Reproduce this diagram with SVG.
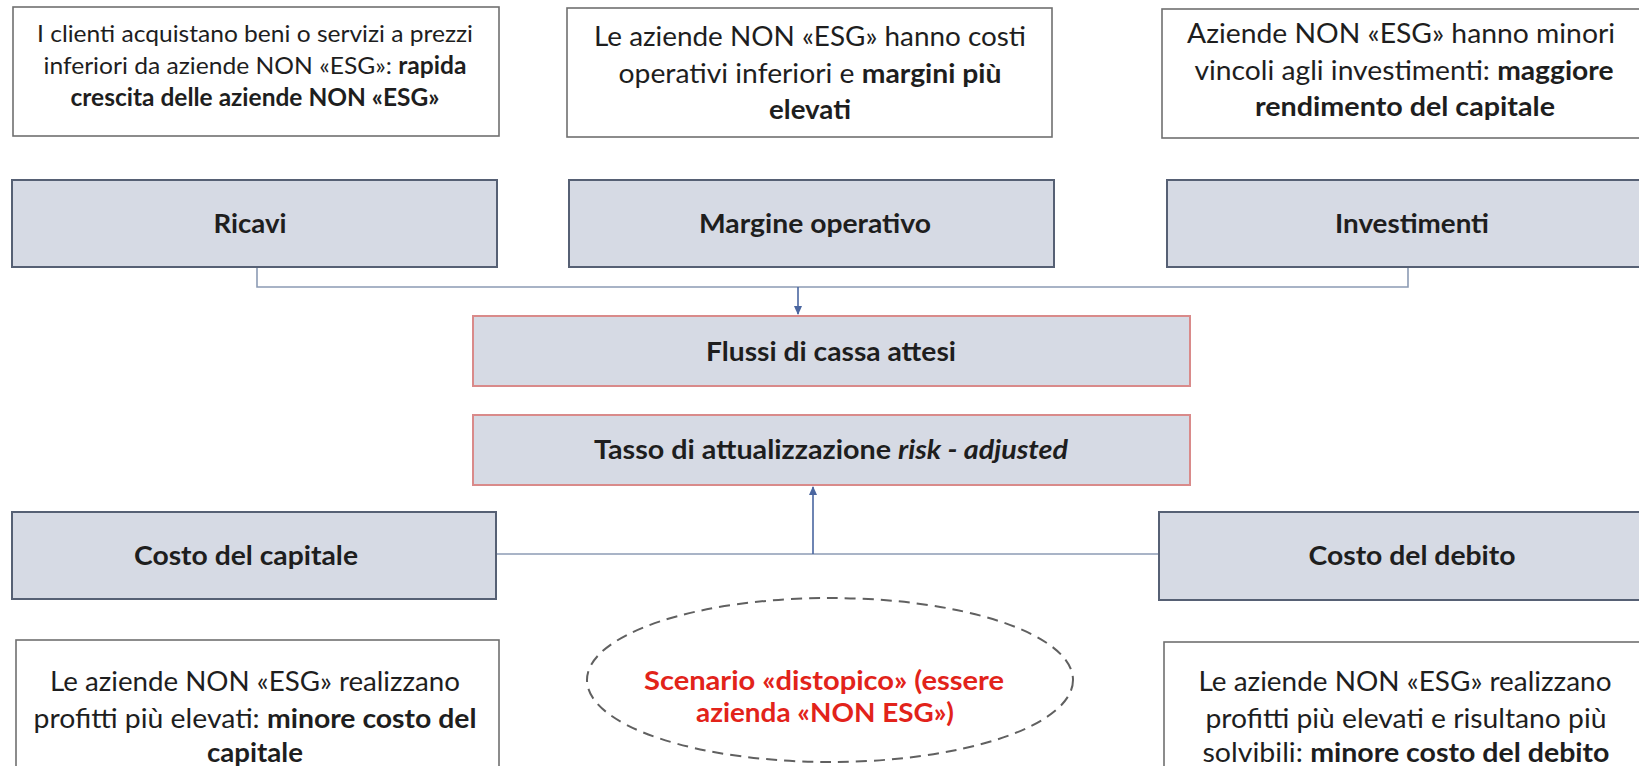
<svg xmlns="http://www.w3.org/2000/svg" width="1639" height="766" viewBox="0 0 1639 766">
<defs>
<style>
.lbl{fill:#d6dae4;stroke:#566074;stroke-width:2}
.rbox{fill:#d6dae4;stroke:#d98a8a;stroke-width:2}
.tbox{fill:#ffffff;stroke:#707070;stroke-width:1.6}
.conn{fill:none;stroke:#8c9bb4;stroke-width:1.6}
.arr{fill:none;stroke:#4a66a0;stroke-width:1.6}
text{font-family:Lato,"Open Sans","Liberation Sans",sans-serif;fill:#1e1e1e;text-anchor:middle}
.s24{font-size:24px}
.s27{font-size:27px}
.b{font-weight:700}
.i{font-style:italic}
.red{fill:#e2231a}
</style>
<marker id="ah" markerWidth="10" markerHeight="10" refX="8" refY="5" orient="auto" markerUnits="userSpaceOnUse">
<path d="M0,1 L9,5 L0,9 Z" fill="#4a66a0"/>
</marker>
</defs>
<rect width="1639" height="766" fill="#ffffff"/>

<g id="connectors">
<path class="conn" d="M257 267 V287 H1408 V267"/>
<path class="arr" d="M798 287 V314" marker-end="url(#ah)"/>
<path class="conn" d="M496 554 H1159"/>
<path class="arr" d="M813 554 V487" marker-end="url(#ah)"/>
</g>

<g id="note-ricavi">
<rect class="tbox" x="13" y="7" width="486" height="129"/>
<text class="s24" x="255" y="42" textLength="436" lengthAdjust="spacingAndGlyphs">I clienti acquistano beni o servizi a prezzi</text>
<text class="s24" x="255" y="74" textLength="423" lengthAdjust="spacingAndGlyphs">inferiori da aziende NON «ESG»: <tspan class="b">rapida</tspan></text>
<text class="s24 b" x="255" y="106" textLength="369" lengthAdjust="spacingAndGlyphs">crescita delle aziende NON «ESG»</text>
</g>

<g id="note-margine">
<rect class="tbox" x="567" y="8" width="485" height="129"/>
<text class="s27" x="810" y="46" textLength="432" lengthAdjust="spacingAndGlyphs">Le aziende NON «ESG» hanno costi</text>
<text class="s27" x="810" y="83" textLength="383" lengthAdjust="spacingAndGlyphs">operativi inferiori e <tspan class="b">margini più</tspan></text>
<text class="s27 b" x="810" y="119" textLength="82" lengthAdjust="spacingAndGlyphs">elevati</text>
</g>

<g id="note-investimenti">
<rect class="tbox" x="1162" y="9" width="490" height="129"/>
<text class="s27" x="1401" y="43" textLength="428" lengthAdjust="spacingAndGlyphs">Aziende NON «ESG» hanno minori</text>
<text class="s27" x="1404" y="80" textLength="419" lengthAdjust="spacingAndGlyphs">vincoli agli investimenti: <tspan class="b">maggiore</tspan></text>
<text class="s27 b" x="1405" y="116" textLength="300" lengthAdjust="spacingAndGlyphs">rendimento del capitale</text>
</g>

<g id="ricavi">
<rect class="lbl" x="12" y="180" width="485" height="87"/>
<text class="s27 b" x="250" y="233" textLength="73" lengthAdjust="spacingAndGlyphs">Ricavi</text>
</g>

<g id="margine">
<rect class="lbl" x="569" y="180" width="485" height="87"/>
<text class="s27 b" x="815" y="233" textLength="232" lengthAdjust="spacingAndGlyphs">Margine operativo</text>
</g>

<g id="investimenti">
<rect class="lbl" x="1167" y="180" width="485" height="87"/>
<text class="s27 b" x="1412" y="233" textLength="154" lengthAdjust="spacingAndGlyphs">Investimenti</text>
</g>

<g id="flussi">
<rect class="rbox" x="473" y="316" width="717" height="70"/>
<text class="s27 b" x="831" y="361" textLength="250" lengthAdjust="spacingAndGlyphs">Flussi di cassa attesi</text>
</g>

<g id="tasso">
<rect class="rbox" x="473" y="415" width="717" height="70"/>
<text class="s27 b" x="831" y="459" textLength="474" lengthAdjust="spacingAndGlyphs">Tasso di attualizzazione <tspan class="i">risk - adjusted</tspan></text>
</g>

<g id="costo-capitale">
<rect class="lbl" x="12" y="512" width="484" height="87"/>
<text class="s27 b" x="246" y="565" textLength="224" lengthAdjust="spacingAndGlyphs">Costo del capitale</text>
</g>

<g id="costo-debito">
<rect class="lbl" x="1159" y="512" width="490" height="88"/>
<text class="s27 b" x="1412" y="565" textLength="207" lengthAdjust="spacingAndGlyphs">Costo del debito</text>
</g>

<g id="note-capitale">
<rect class="tbox" x="16" y="640" width="483" height="140"/>
<text class="s27" x="255" y="691" textLength="410" lengthAdjust="spacingAndGlyphs">Le aziende NON «ESG» realizzano</text>
<text class="s27" x="255" y="728" textLength="443" lengthAdjust="spacingAndGlyphs">profitti più elevati: <tspan class="b">minore costo del</tspan></text>
<text class="s27 b" x="255" y="762" textLength="96" lengthAdjust="spacingAndGlyphs">capitale</text>
</g>

<g id="note-debito">
<rect class="tbox" x="1164" y="642" width="490" height="140"/>
<text class="s27" x="1405" y="691" textLength="413" lengthAdjust="spacingAndGlyphs">Le aziende NON «ESG» realizzano</text>
<text class="s27" x="1406" y="728" textLength="401" lengthAdjust="spacingAndGlyphs">profitti più elevati e risultano più</text>
<text class="s27" x="1406" y="762" textLength="407" lengthAdjust="spacingAndGlyphs">solvibili: <tspan class="b">minore costo del debito</tspan></text>
</g>

<g id="scenario">
<ellipse cx="830" cy="680" rx="243" ry="82" fill="#ffffff" stroke="#606060" stroke-width="2" stroke-dasharray="11 7"/>
<text class="s27 b red" x="824" y="690" textLength="360" lengthAdjust="spacingAndGlyphs">Scenario «distopico» (essere</text>
<text class="s27 b red" x="825" y="722" textLength="258" lengthAdjust="spacingAndGlyphs">azienda «NON ESG»)</text>
</g>
</svg>
